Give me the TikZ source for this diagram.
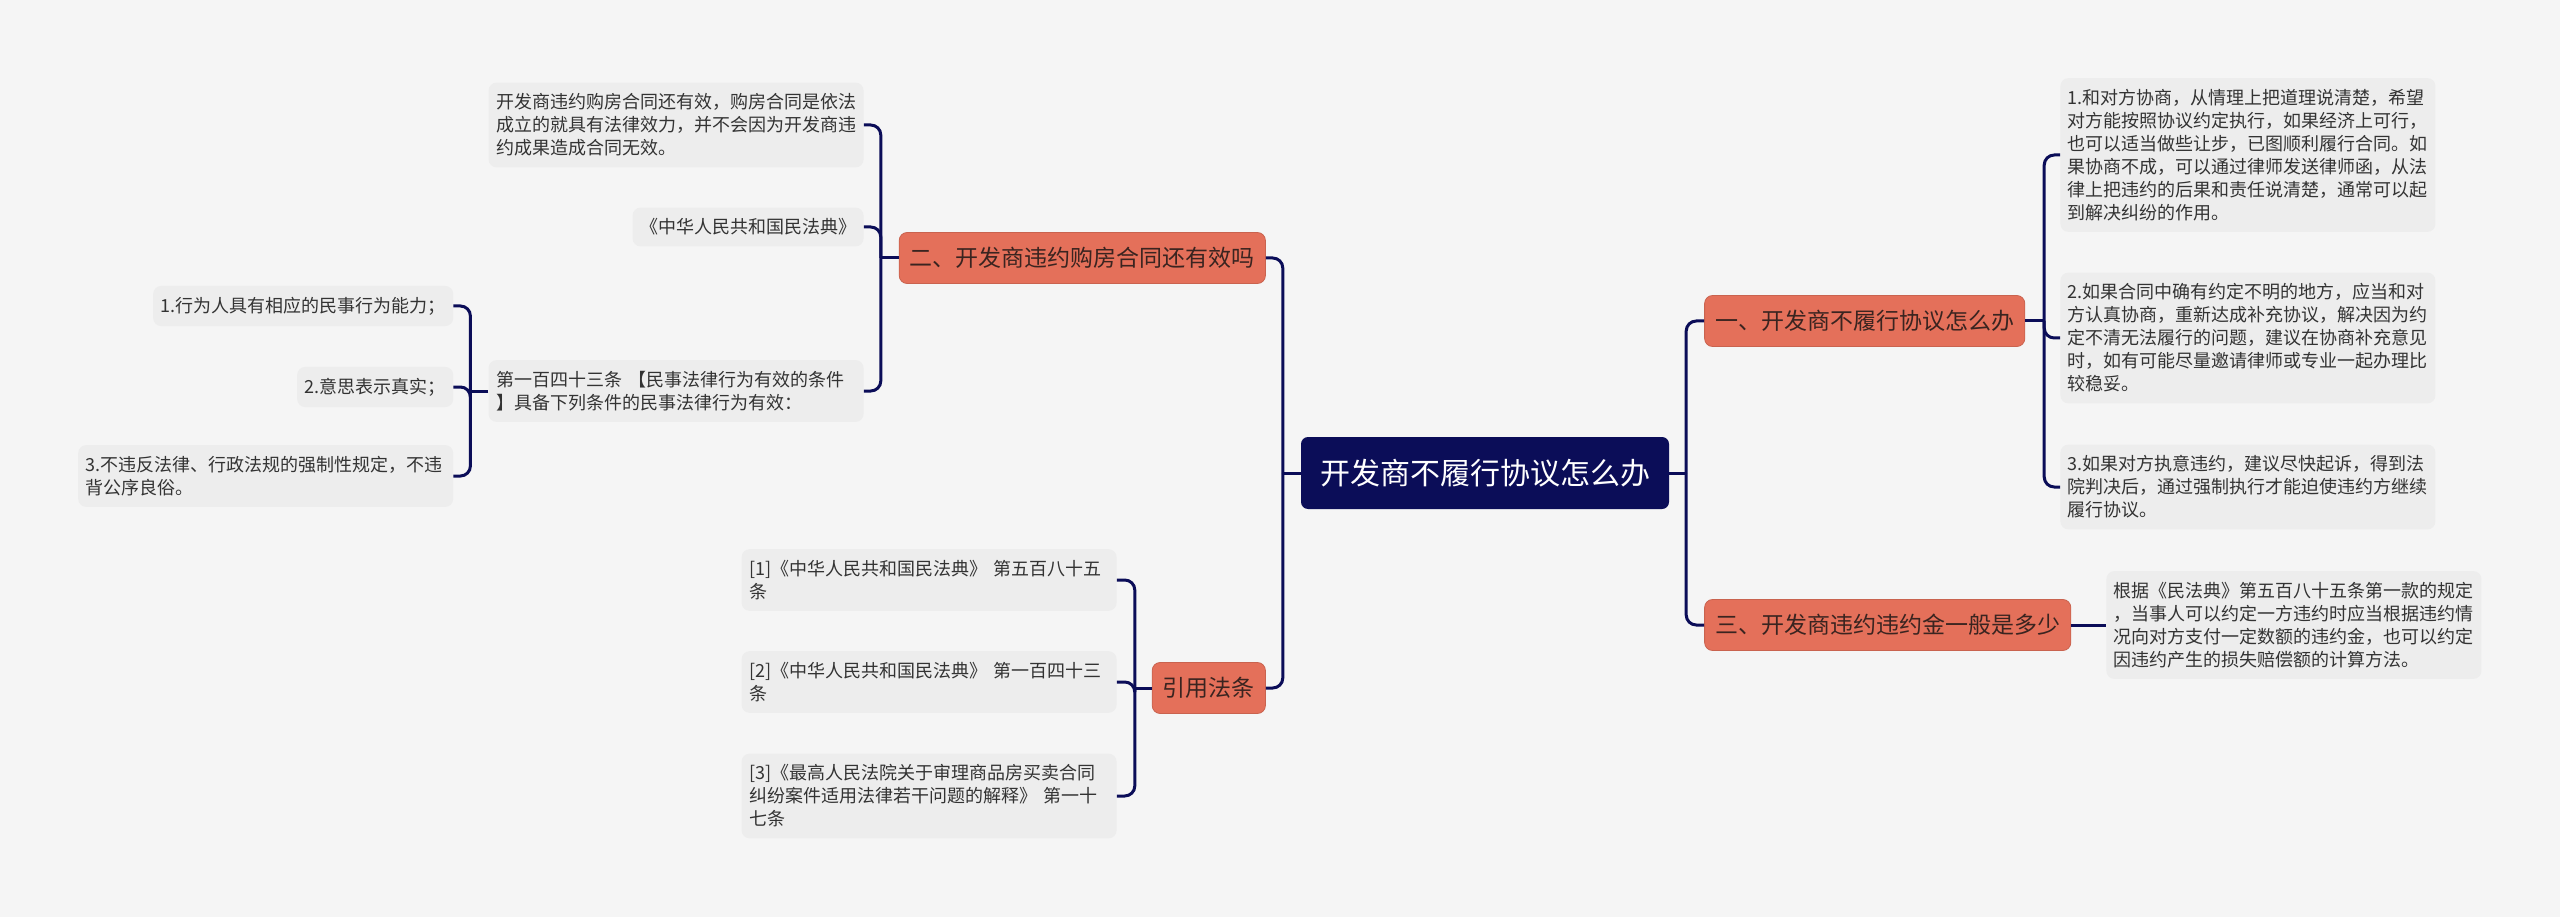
\documentclass[tikz,border=0pt]{standalone}
\usepackage{fontspec}
\setmainfont{Noto Sans CJK SC}
\usetikzlibrary{positioning}

\definecolor{bgcol}{RGB}{245,245,245}
\definecolor{leafcol}{RGB}{237,237,237}
\definecolor{navy}{RGB}{11,13,88}
\definecolor{coral}{RGB}{228,112,90}
\definecolor{leaftext}{RGB}{51,51,51}
\definecolor{topictext}{RGB}{58,36,32}

\tikzset{
  root/.style={rectangle, rounded corners=7pt, fill=navy, text=white,
    font=\fontsize{30}{36}\selectfont, inner xsep=19pt, minimum height=72pt},
  topic/.style={rectangle, rounded corners=8pt, fill=coral, draw=coral!88!black, line width=0.8pt,
    text=topictext, font=\fontsize{23}{28}\selectfont, inner xsep=10.6pt, minimum height=51pt},
  leaf/.style={rectangle, rounded corners=8pt, fill=leafcol, text=leaftext,
    font=\fontsize{18}{23}\selectfont, inner xsep=7.5pt, inner ysep=11pt, align=left},
  para/.style={leaf, text width=360pt},
  link/.style={draw=navy, line width=3pt, rounded corners=10pt}
}

\begin{document}
\begin{tikzpicture}[x=1pt, y=-1pt, node distance=35pt]
    \useasboundingbox[fill=bgcol] (0,0) rectangle (2560,917);

    \node[root] (root) at (1485,473) {开发商不履行协议怎么办};

    \node[topic, left=of root, yshift=215pt] (q2) {二、开发商违约购房合同还有效吗};
    \node[topic, left=of root, yshift=-215pt] (law) {引用法条};
    \node[topic, right=of root, yshift=152pt] (q1) {一、开发商不履行协议怎么办};
    \node[topic, right=of root, yshift=-152pt] (q3) {三、开发商违约违约金一般是多少};

    \node[para, left=of q2, yshift=133pt] (q2a) {开发商违约购房合同还有效，购房合同是依法\\成立的就具有法律效力，并不会因为开发商违\\约成果造成合同无效。};
    \node[leaf, left=of q2, yshift=31pt] (q2b) {《中华人民共和国民法典》};
    \node[para, left=of q2, yshift=-133pt] (q2c) {第一百四十三条 【民事法律行为有效的条件\\】具备下列条件的民事法律行为有效：};

    \node[leaf, left=of q2c, yshift=85pt] (cond1) {1.行为人具有相应的民事行为能力；};
    \node[leaf, left=of q2c, yshift=4pt] (cond2) {2.意思表示真实；};
    \node[para, left=of q2c, yshift=-85pt] (cond3) {3.不违反法律、行政法规的强制性规定，不违\\背公序良俗。};

    \node[para, left=of law, yshift=108pt] (ref1) {[1]《中华人民共和国民法典》 第五百八十五\\条};
    \node[para, left=of law, yshift=6pt] (ref2) {[2]《中华人民共和国民法典》 第一百四十三\\条};
    \node[para, left=of law, yshift=-108pt] (ref3) {[3]《最高人民法院关于审理商品房买卖合同\\纠纷案件适用法律若干问题的解释》 第一十\\七条};

    \node[para, right=of q1, yshift=166pt] (q1a) {1.和对方协商，从情理上把道理说清楚，希望\\对方能按照协议约定执行，如果经济上可行，\\也可以适当做些让步，已图顺利履行合同。如\\果协商不成，可以通过律师发送律师函，从法\\律上把违约的后果和责任说清楚，通常可以起\\到解决纠纷的作用。};
    \node[para, right=of q1, yshift=-17pt] (q1b) {2.如果合同中确有约定不明的地方，应当和对\\方认真协商，重新达成补充协议，解决因为约\\定不清无法履行的问题，建议在协商补充意见\\时，如有可能尽量邀请律师或专业一起办理比\\较稳妥。};
    \node[para, right=of q1, yshift=-166pt] (q1c) {3.如果对方执意违约，建议尽快起诉，得到法\\院判决后，通过强制执行才能迫使违约方继续\\履行协议。};

    \node[para, right=of q3] (q3a) {根据《民法典》第五百八十五条第一款的规定\\，当事人可以约定一方违约时应当根据违约情\\况向对方支付一定数额的违约金，也可以约定\\因违约产生的损失赔偿额的计算方法。};

    \draw[link] (root.west) -- ++(-18pt,0) coordinate (jl);
    \foreach \n in {q2,law} \draw[link] (jl) |- (\n.east);
    \draw[link] (root.east) -- ++(17pt,0) coordinate (jr);
    \foreach \n in {q1,q3} \draw[link] (jr) |- (\n.west);

    \draw[link] (q2.west) -- ++(-18pt,0) coordinate (j2);
    \foreach \n in {q2a,q2b,q2c} \draw[link] (j2) |- (\n.east);
    \draw[link] (q2c.west) -- ++(-18pt,0) coordinate (jc);
    \foreach \n in {cond1,cond2,cond3} \draw[link] (jc) |- (\n.east);
    \draw[link] (law.west) -- ++(-17pt,0) coordinate (jlaw);
    \foreach \n in {ref1,ref2,ref3} \draw[link] (jlaw) |- (\n.east);

    \draw[link] (q1.east) -- ++(19pt,0) coordinate (j1);
    \foreach \n in {q1a,q1b,q1c} \draw[link] (j1) |- (\n.west);
    \draw[link] (q3.east) -- (q3a.west);
\end{tikzpicture}
\end{document}
